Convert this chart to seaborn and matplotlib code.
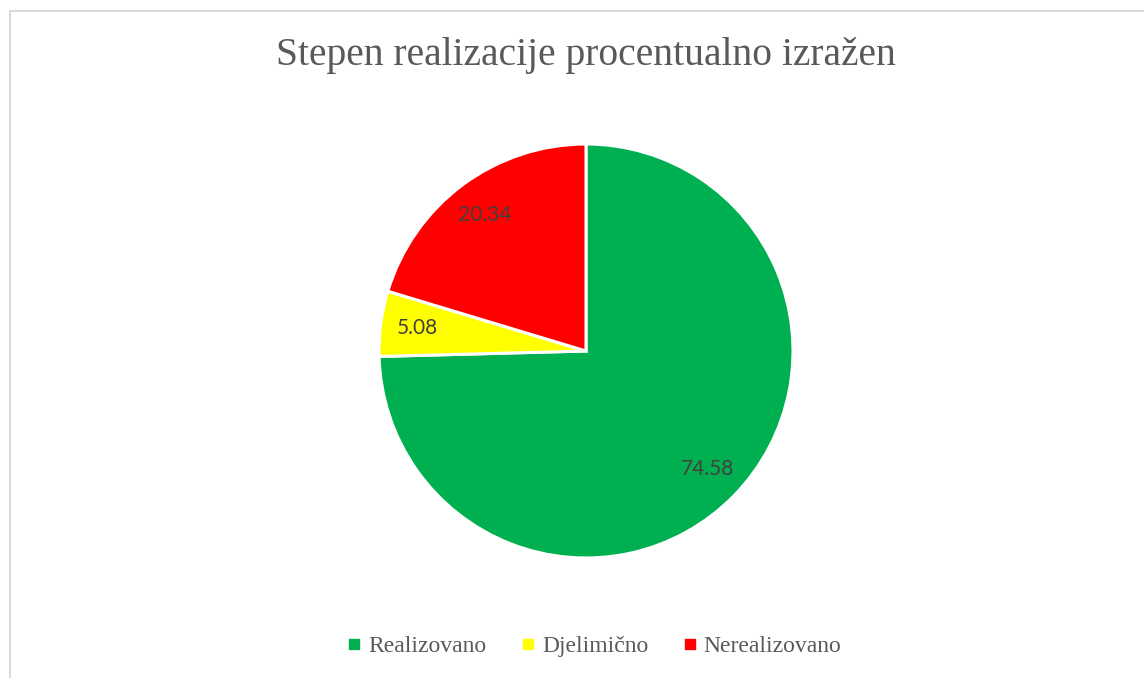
import matplotlib
matplotlib.use("Agg")
import matplotlib.pyplot as plt
import seaborn as sns
from matplotlib.lines import Line2D

categories = ["Realizovano", "Djelimično", "Nerealizovano"]
values = [74.58, 5.08, 20.34]
colors = ["#00B050", "#FFFF00", "#FF0000"]
title = "Stepen realizacije procentualno izražen"

sns.set_theme(style="white")
plt.rcParams['font.family'] = ['Liberation Serif', 'DejaVu Serif']

fig = plt.figure(figsize=(11.44, 6.78), dpi=100)
W, H = 1144, 678
cx, cy, r = 586, 351, 207
ax = fig.add_axes([(cx - r) / W, (H - cy - r) / H, 2 * r / W, 2 * r / H])
wedges, texts = ax.pie(values, colors=colors, startangle=90, counterclock=False,
                       labels=[f"{v:.2f}" for v in values], labeldistance=0.82,
                       wedgeprops=dict(edgecolor="white", linewidth=2.2),
                       textprops=dict(color="#404040", fontsize=15, family=['Lato', 'DejaVu Sans']))
for t in texts:
    t.set_horizontalalignment('center')
    t.set_verticalalignment('center')
ax.set_xlim(-1, 1)
ax.set_ylim(-1, 1)
ax.set_aspect('equal')
ax.axis('off')

fig.text(586 / W, 1 - 55 / H, title, ha='center', va='center', fontsize=28.5, color="#595959")

handles = [Line2D([0], [0], marker='s', linestyle='none', markersize=7,
                  markerfacecolor=c, markeredgecolor=c) for c in colors]
fig.legend(handles, categories, loc='center', bbox_to_anchor=(592 / W, 1 - 646 / H),
           ncol=3, frameon=False, fontsize=17, labelcolor="#595959",
           handletextpad=0.1, columnspacing=1.25, handlelength=1.0)

# chart border
fig.add_artist(Line2D([10 / W, 10 / W], [0, 1 - 11 / H], color="#D9D9D9", linewidth=1.5, transform=fig.transFigure))
fig.add_artist(Line2D([10 / W, 1], [1 - 11 / H, 1 - 11 / H], color="#D9D9D9", linewidth=1.5, transform=fig.transFigure))

fig.savefig("out.png", dpi=100, facecolor="white")
